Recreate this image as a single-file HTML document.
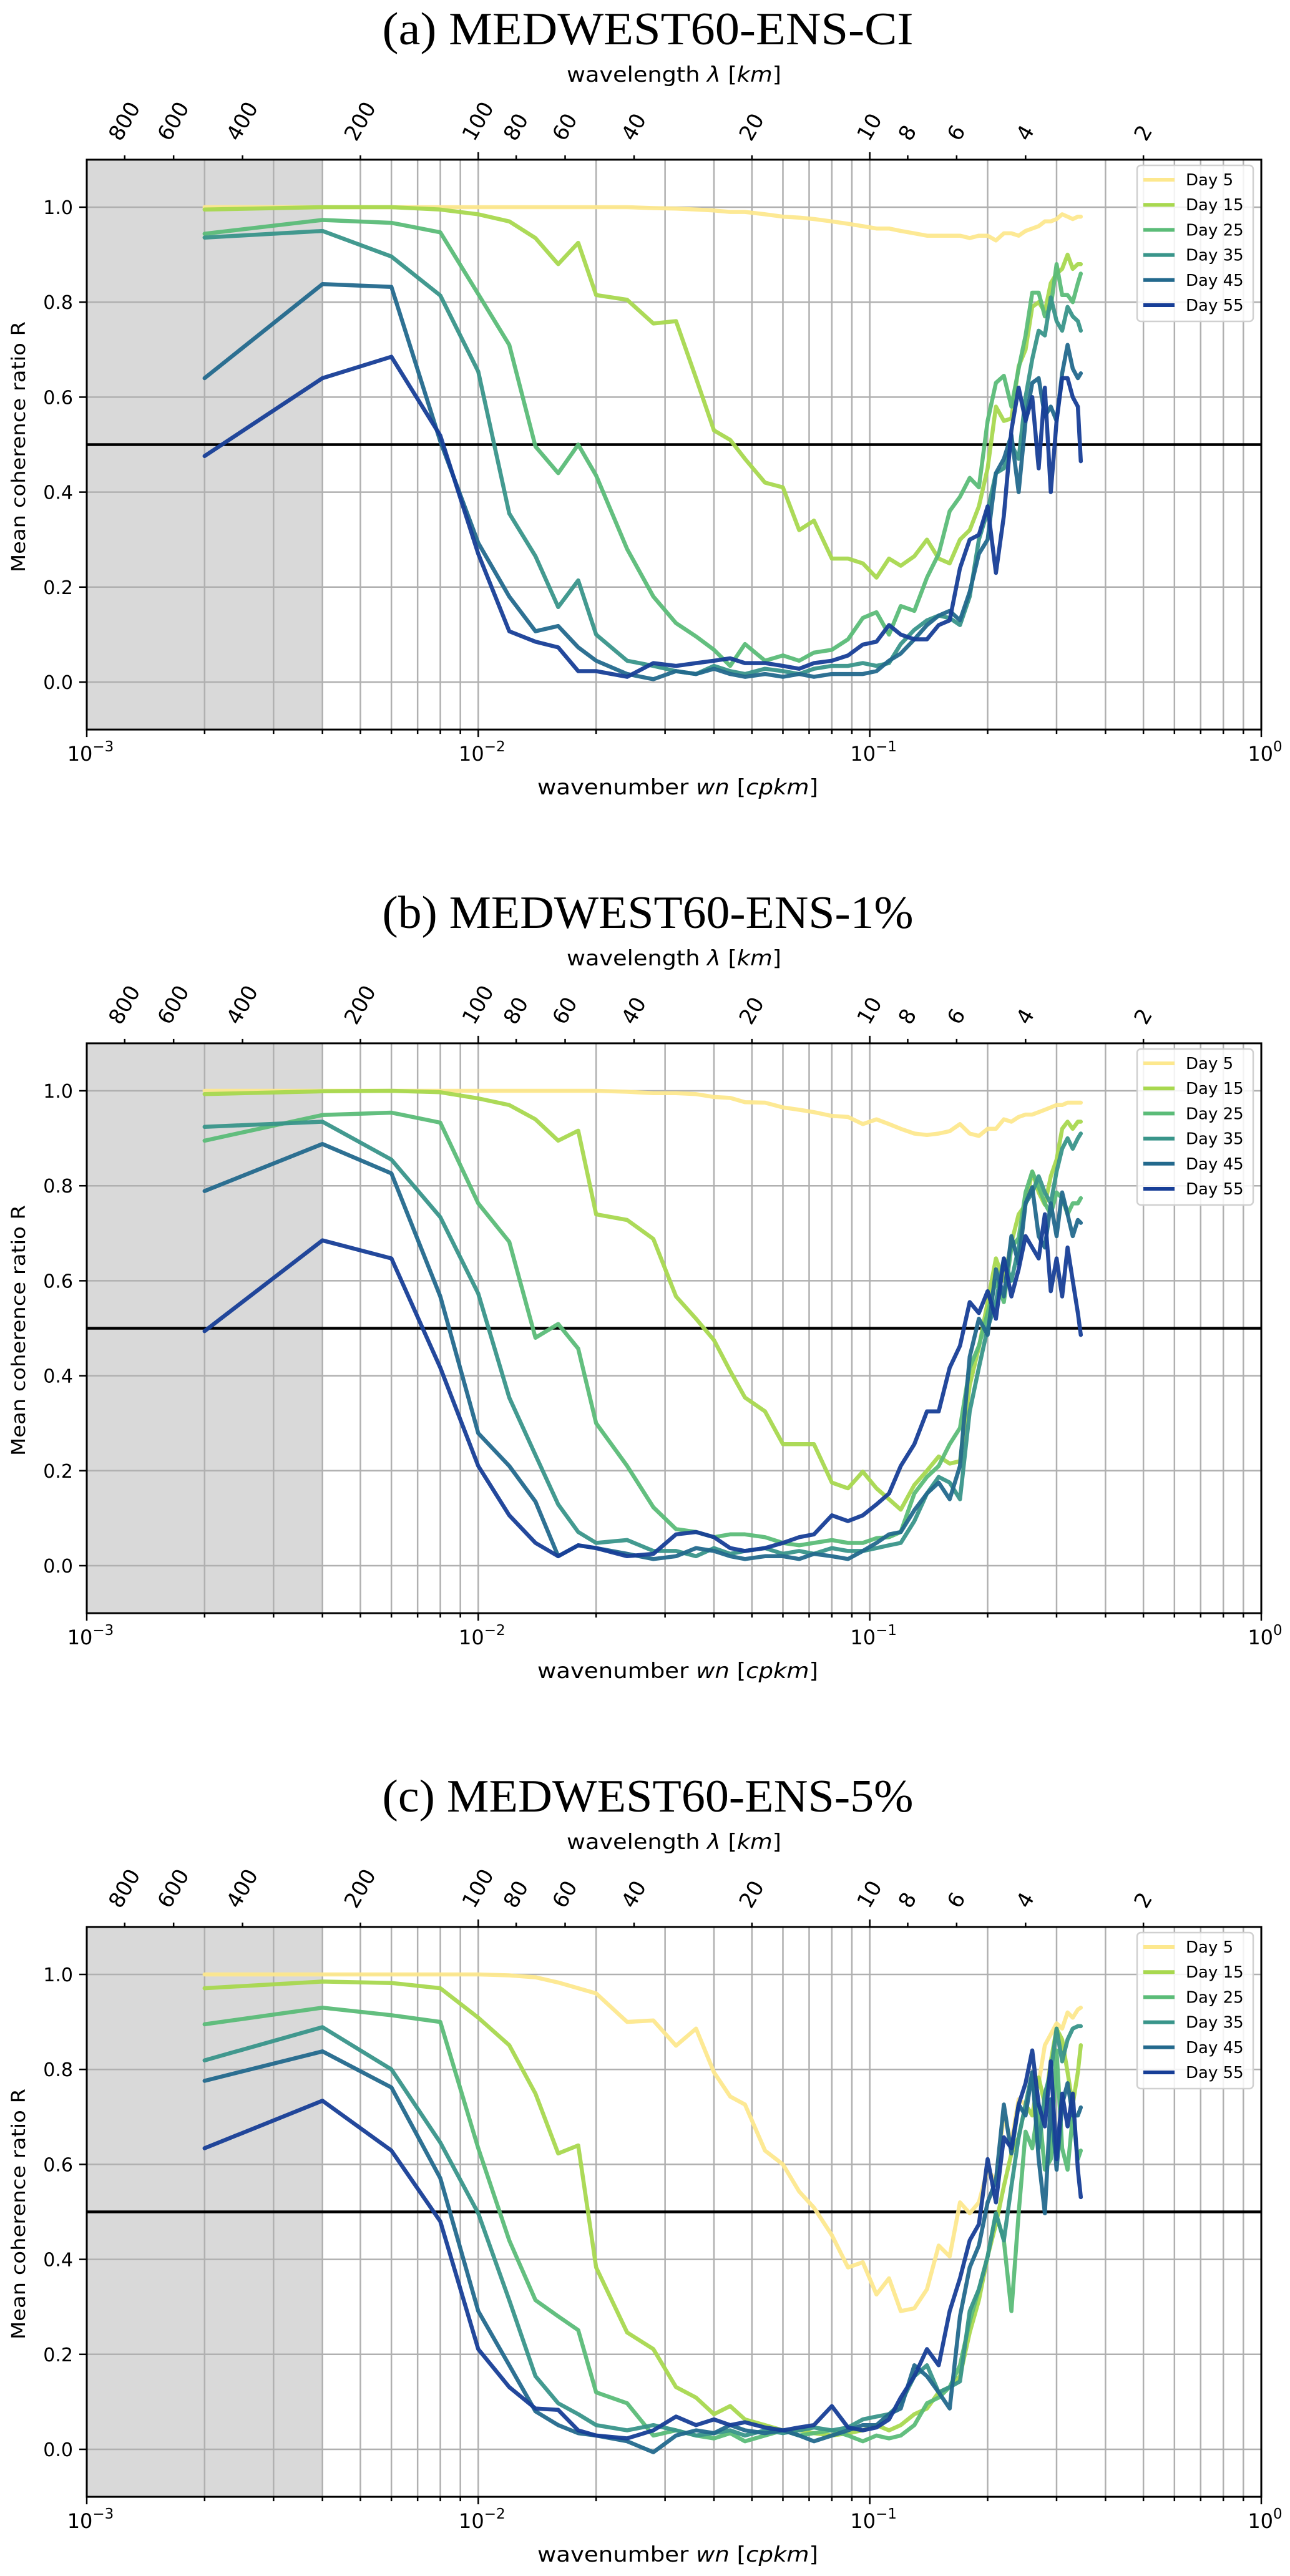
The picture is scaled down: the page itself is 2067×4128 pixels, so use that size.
<!DOCTYPE html>
<html>
<head>
<meta charset="utf-8">
<style>
html,body{margin:0;padding:0;background:#fff;}
svg{display:block;}
text{font-family:"DejaVu Sans","Liberation Sans",sans-serif;fill:#000;}
.serif{font-family:"Liberation Serif","DejaVu Serif",serif;}
</style>
</head>
<body>
<svg id="fig" xmlns="http://www.w3.org/2000/svg" width="2067" height="4128" viewBox="0 0 2067 4128">
<rect x="0" y="0" width="2067" height="4128" fill="#fff"/>
</svg>
<script>
// ---- data ----
const wavenumbers = [0.002,0.004,0.006,0.008,0.010,0.012,0.014,0.016,0.018,0.020,0.024,0.028,0.032,0.036,0.040,0.044,0.048,0.054,0.060,0.066,0.072,0.080,0.088,0.096,0.104,0.112,0.120,0.130,0.140,0.150,0.160,0.170,0.180,0.190,0.200,0.210,0.220,0.230,0.240,0.250,0.260,0.270,0.280,0.290,0.300,0.310,0.320,0.330,0.340,0.346];
const seriesLabels = ["Day 5","Day 15","Day 25","Day 35","Day 45","Day 55"];
const panelTitles = ["(a) MEDWEST60-ENS-CI","(b) MEDWEST60-ENS-1%","(c) MEDWEST60-ENS-5%"];
const yTicks = [0.0,0.2,0.4,0.6,0.8,1.0];
const yTickLabels = ["0.0","0.2","0.4","0.6","0.8","1.0"];
const xMajorTicks = [0.001,0.01,0.1,1];
const xMajorExp = ["\u22123","\u22122","\u22121","0"];
const wavelengthTicks = [800,600,400,200,100,80,60,40,20,10,8,6,4,2];
const threshold = 0.5;
const shadeLimit = 0.004;

const a_day5 = [1,1,1,1,1,1,1,1,1,1, 1,.998,.997,.995,.993, .99,.99,.985,.98,.978, .975,.97,.965,.96,.955, .955,.95,.945,.94,.94, .94,.94,.935,.94,.94, .93,.945,.945,.94,.95, .955,.96,.97,.97,.975, .985,.98,.975,.98,.98];
const a_day15 = [.995,1,1,.995,.985,.97,.935,.88,.925,.815, .805,.755,.76,.64,.53, .51,.47,.42,.41,.32, .34,.26,.26,.25,.22, .26,.245,.265,.30,.26, .25,.30,.32,.37,.45, .58,.55,.555,.665,.70, .79,.80,.78,.84,.86, .87,.90,.87,.88,.88];
const a_day25 = [.944,.973,.967,.947,.817,.71,.496,.44,.50,.435, .28,.18,.124,.096,.068, .034,.08,.045,.056,.045, .062,.068,.09,.135,.147, .10,.16,.15,.22,.27, .36,.39,.43,.41,.55, .63,.645,.58,.66,.73, .82,.82,.77,.79,.88, .815,.815,.80,.84,.86];
const a_day35 = [.936,.95,.896,.814,.654,.355,.265,.158,.214,.10, .045,.034,.023,.017,.034, .023,.017,.028,.023,.017, .028,.034,.034,.04,.034, .04,.08,.11,.13,.14, .135,.12,.18,.30,.36, .44,.45,.50,.47,.60, .68,.74,.73,.81,.76, .74,.79,.77,.76,.74];
const a_day45 = [.64,.838,.832,.507,.293,.18,.107,.118,.073,.045, .017,.006,.023,.017,.028, .017,.011,.017,.011,.017, .011,.017,.017,.017,.023, .045,.06,.09,.12,.14, .15,.13,.19,.27,.30, .44,.47,.52,.40,.55, .63,.64,.56,.58,.55, .65,.71,.66,.64,.65];
const a_day55 = [.476,.64,.685,.519,.27,.107,.085,.073,.023,.023, .011,.04,.034,.04,.045, .05,.04,.04,.034,.028, .04,.045,.056,.079,.085, .12,.10,.09,.09,.12, .13,.24,.30,.31, .37,.23,.35,.53,.62,.55,.60,.45,.62,.40,.55,.64,.64,.60,.58,.465];

const b_day5 = [1,1,1,1,1,1,1,1,1,1, .998,.995,.995,.993,.987, .985,.976,.975,.965,.96, .955,.947,.945,.93,.94, .93,.92,.91,.907,.91, .915,.93,.91,.905,.92, .92,.94,.935,.945,.95, .95,.955,.96,.965,.97, .97,.975,.975,.975,.975];
const b_day15 = [.993,.999,1,.997,.984,.97,.94,.895,.916,.74, .728,.688,.567,.52,.475, .41,.354,.325,.256,.256, .256,.175,.163,.198,.163, .14,.118,.17,.20,.23, .215,.22,.38,.46,.555, .647,.60,.68,.74,.76, .83,.786,.76,.82,.855, .92,.935,.92,.935,.935];
const b_day25 = [.895,.949,.954,.933,.763,.682,.48,.509,.457,.30, .21,.123,.077,.071,.06, .066,.066,.06,.048,.043, .048,.054,.048,.048,.058, .06,.071,.152,.187,.21, .256,.29,.417,.463,.532, .60,.555,.67,.69,.786, .83,.797,.763,.74,.786, .774,.74,.763,.763,.774];
const b_day35 = [.924,.935,.855,.734,.573,.354,.233,.129,.071,.048, .054,.031,.031,.02,.037, .025,.031,.037,.025,.031, .025,.037,.031,.031,.037, .043,.048,.094,.152,.187, .175,.14,.325,.417,.50, .555,.647,.60,.67,.763, .786,.82,.786,.763,.83, .878,.90,.878,.90,.91];
const b_day45 = [.789,.888,.826,.567,.279,.21,.135,.02,.043,.037, .025,.014,.02,.037,.031, .02,.014,.02,.02,.014, .025,.02,.014,.031,.048, .066,.071,.117,.152,.175, .14,.21,.44,.52,.486, .624,.567,.694,.636,.763, .797,.694,.67,.763,.694, .786,.74,.694,.728,.722];
const b_day55 = [.494,.685,.647,.417,.21,.106,.048,.02,.043,.037, .02,.025,.066,.071,.06, .037,.031,.037,.048,.06, .066,.106,.094,.106,.129, .152,.21,.256,.325,.325, .417,.463,.555,.532,.578, .52,.647,.567,.624,.694, .67,.647,.74,.578,.647, .567,.67,.60,.532,.486];

const c_day5 = [1,1,1,1,1,.998,.994,.983,.971,.96, .90,.903,.85,.886,.794, .743,.726,.629,.60,.543, .509,.451,.383,.394,.326, .36,.291,.297,.337,.429, .406,.52,.497,.52,.589, .566,.703,.646,.737,.726, .794,.771,.851,.874,.897, .886,.92,.909,.926,.93];
const c_day15 = [.971,.985,.982,.971,.909,.851,.749,.623,.64,.383, .246,.211,.131,.109,.074, .091,.063,.051,.04,.04, .034,.029,.034,.04,.051, .04,.051,.074,.086,.12, .131,.154,.246,.314,.406, .474,.554,.623,.657,.726, .703,.783,.726,.817,.886, .863,.794,.726,.794,.851];
const c_day25 = [.895,.93,.914,.90,.634,.44,.314,.28,.251,.12, .097,.029,.04,.029,.023, .034,.017,.029,.04,.029, .034,.04,.029,.017,.029, .023,.029,.051,.097,.109, .131,.177,.269,.337,.406, .497,.44,.291,.497,.669, .634,.726,.589,.611,.84, .634,.589,.703,.611,.629];
const c_day35 = [.819,.889,.80,.646,.497,.314,.154,.097,.074,.051, .04,.051,.04,.029,.034, .04,.029,.04,.034,.04, .046,.04,.046,.063,.069, .074,.097,.154,.177,.12, .131,.143,.291,.337,.406, .497,.44,.554,.657,.726, .794,.634,.749,.794,.886, .817,.863,.886,.891,.891];
const c_day45 = [.776,.838,.762,.571,.291,.177,.08,.051,.034,.029, .017,-.006,.029,.04,.034, .051,.04,.034,.04,.029, .017,.029,.04,.051,.051, .074,.086,.177,.154,.12, .086,.28,.383,.429,.52, .566,.726,.623,.726,.703, .794,.611,.497,.737,.589, .726,.771,.703,.703,.72];
const c_day55 = [.634,.734,.629,.48,.211,.131,.086,.083,.04,.029, .023,.04,.069,.051,.063, .051,.057,.046,.04,.046, .051,.091,.046,.04,.046, .063,.109,.154,.211,.177, .291,.36,.44,.474,.611, .52,.657,.634,.726,.771, .84,.726,.68,.817,.611, .749,.68,.749,.589,.531];

const panelSeries = [
  [a_day5,a_day15,a_day25,a_day35,a_day45,a_day55],
  [b_day5,b_day15,b_day25,b_day35,b_day45,b_day55],
  [c_day5,c_day15,c_day25,c_day35,c_day45,c_day55]
];

// ---- styling / layout ----
const colors = ["#fde88e","#a8d84f","#5bbc78","#39958a","#23698d","#173e97"];
const NS = "http://www.w3.org/2000/svg";
const svg = document.getElementById("fig");
const X0 = 139, X1 = 2021;
const PANEL_DY = 1416;
const Y_ZERO = 1093, Y_UNIT = 761;
const YMIN = -0.1, YMAX = 1.1;

function mk(tag, attrs, parent){
  const e = document.createElementNS(NS, tag);
  for (const k in attrs) e.setAttribute(k, attrs[k]);
  (parent||svg).appendChild(e);
  return e;
}
function xs(w){ return X0 + (Math.log10(w) + 3) / 3 * (X1 - X0); }

for (let p = 0; p < 3; p++){
  const off = p * PANEL_DY;
  const ys = v => Y_ZERO + off - v * Y_UNIT;
  const top = ys(YMAX), bot = ys(YMIN);
  const g = mk("g", {});
  
  

  const sh = mk("rect", {x:X0, y:top, width:xs(shadeLimit)-X0, height:bot-top, fill:"#d9d9d9"}, g);
  
  

  const grid = mk("g", {stroke:"#b0b0b0", "stroke-width":2.5}, g);
  
  
  for (let d = -3; d < 0; d++){
    for (let m = 1; m <= 9; m++){
      const w = m * Math.pow(10, d);
      const x = xs(w);
      if (x <= X0 + 1) continue;
      mk("line", {x1:x, x2:x, y1:top, y2:bot}, grid);
    }
  }
  yTicks.forEach(v => { mk("line", {x1:X0, x2:X1, y1:ys(v), y2:ys(v)}, grid); });

  const th = mk("line", {x1:X0, x2:X1, y1:ys(threshold), y2:ys(threshold), stroke:"#000", "stroke-width":4.5}, g);
  
  

  panelSeries[p].forEach((vals, si) => {
    const pts = vals.map((v, i) => xs(wavenumbers[i]).toFixed(1) + "," + ys(v).toFixed(1)).join(" ");
    const pl = mk("polyline", {points:pts, fill:"none", stroke:colors[si], "stroke-width":6.5, "stroke-linejoin":"round", "stroke-linecap":"round", opacity:0.95}, g);
    
    
  });

  const sp = mk("rect", {x:X0, y:top, width:X1-X0, height:bot-top, fill:"none", stroke:"#000", "stroke-width":3}, g);
  
  

  const tk = mk("g", {stroke:"#000", "stroke-width":2.5}, g);
  
  
  for (let d = -3; d < 0; d++){
    for (let m = 2; m <= 9; m++){
      const x = xs(m * Math.pow(10, d));
      mk("line", {x1:x, x2:x, y1:bot, y2:bot+7}, tk);
    }
  }
  xMajorTicks.forEach((w, i) => {
    const x = xs(w);
    mk("line", {x1:x, x2:x, y1:bot, y2:bot+12}, tk);
    const t = mk("text", {x:x+6, y:bot+50, "font-size":32, "text-anchor":"middle"}, g);
    
    
    t.textContent = "10";
    const s = mk("tspan", {dy:-15, "font-size":23}, t);
    s.textContent = xMajorExp[i];
  });

  yTicks.forEach((v, i) => {
    const y = ys(v);
    mk("line", {x1:X0-12, x2:X0, y1:y, y2:y, stroke:"#000", "stroke-width":2.5}, g);
    const t = mk("text", {x:X0-22, y:y+11, "font-size":30, "text-anchor":"end"}, g);
    
    
    t.textContent = yTickLabels[i];
  });

  wavelengthTicks.forEach(lam => {
    const x = xs(1 / lam);
    const major = (lam === 100 || lam === 10);
    mk("line", {x1:x, x2:x, y1:top, y2:top-(major?12:7), stroke:"#000", "stroke-width":2.5}, g);
    const t = mk("text", {x:0, y:0, "font-size":34, "text-anchor":"middle", "dominant-baseline":"central"}, g);
    
    
    t.textContent = String(lam);
    const w = t.getComputedTextLength ? t.getComputedTextLength() : String(lam).length * 21;
    const h = 25, th_ = 60 * Math.PI / 180;
    const H = w * Math.sin(th_) + h * Math.cos(th_);
    const cy = top - 27 - H / 2;
    t.setAttribute("transform", "translate(" + x.toFixed(1) + "," + cy.toFixed(1) + ") rotate(-60)");
  });

  const xl = mk("text", {x:1086, y:off+1273, "font-size":34, "text-anchor":"middle", textLength:450, lengthAdjust:"spacingAndGlyphs"}, g);
  
  
  xl.innerHTML = 'wavenumber <tspan font-style="italic">wn</tspan> [<tspan font-style="italic">cpkm</tspan>]';

  const tl = mk("text", {x:1080, y:off+131, "font-size":34, "text-anchor":"middle", textLength:344, lengthAdjust:"spacingAndGlyphs"}, g);
  
  
  tl.innerHTML = 'wavelength <tspan font-style="italic">\u03bb</tspan> [<tspan font-style="italic">km</tspan>]';

  const yl = mk("text", {x:0, y:0, "font-size":30, "text-anchor":"middle", transform:"translate(40," + (off+716) + ") rotate(-90)", textLength:402, lengthAdjust:"spacingAndGlyphs"}, g);
  
  
  yl.textContent = "Mean coherence ratio R";

  const ti = mk("text", {x:1038, y:off+71, "font-size":74, "text-anchor":"middle", "class":"serif", textLength:851, lengthAdjust:"spacingAndGlyphs"}, g);
  
  
  ti.textContent = panelTitles[p];

  const lg = mk("g", {}, g);
  
  
  mk("rect", {x:1822, y:off+265, width:186, height:250, rx:6, fill:"#fff", "fill-opacity":0.85, stroke:"#d0d0d0", "stroke-width":2.5}, lg);
  seriesLabels.forEach((lab, si) => {
    const y = off + 288 + si * 40.2;
    const e = mk("g", {}, lg);
    
    
    mk("line", {x1:1832, x2:1882, y1:y, y2:y, stroke:colors[si], "stroke-width":6}, e);
    const t = mk("text", {x:1900, y:y+9, "font-size":26}, e);
    t.textContent = lab;
  });
}
</script>
</body>
</html>
